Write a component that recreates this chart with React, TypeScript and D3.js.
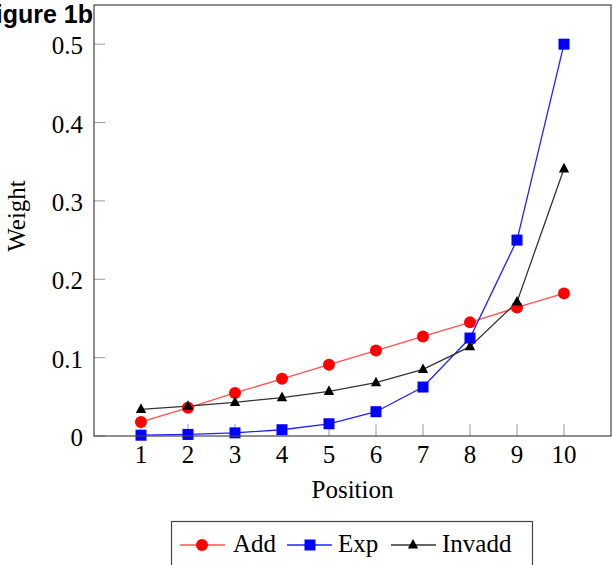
import React from 'react'
import * as d3 from 'd3'

const positions = [1, 2, 3, 4, 5, 6, 7, 8, 9, 10]
const addValues = [0.018, 0.036, 0.055, 0.073, 0.091, 0.109, 0.127, 0.145, 0.164, 0.182]
const expValues = [0.001, 0.002, 0.004, 0.008, 0.0156, 0.031, 0.0625, 0.125, 0.25, 0.5]
const invaddValues = [0.034, 0.038, 0.043, 0.049, 0.057, 0.068, 0.085, 0.114, 0.171, 0.341]
const yTicks = [0, 0.1, 0.2, 0.3, 0.4, 0.5]
const yTickLabels = ['0', '0.1', '0.2', '0.3', '0.4', '0.5']

const W = 612
const H = 565
const left = 94
const right = 611
const top = 5
const bottom = 436

const serif = '"Liberation Serif", "DejaVu Serif", serif'
const fs = 25

const App: React.FC = () => {
  const x = d3.scaleLinear().domain([0, 11]).range([left, right])
  const y = d3.scaleLinear().domain([0, 0.55]).range([bottom, top])

  const line = d3.line<number>()
    .x((_, i) => x(positions[i]))
    .y(d => y(d))

  // 三角形标记
  const tri = (cx: number, cy: number, s: number) =>
    `M${cx},${cy - s * 0.75} L${cx + s * 0.65},${cy + s * 0.45} L${cx - s * 0.65},${cy + s * 0.45} Z`

  return (
    <svg width={W} height={H} style={{ position: 'absolute', left: 0, top: 0, background: '#fff' }}>
      {/* 刻度 */}
      {yTicks.map((t, i) => (
        <g key={'y' + i}>
          <line x1={left} x2={left + 11} y1={y(t)} y2={y(t)} stroke="#999" strokeWidth={1} />
          <text x={83} y={y(t) + 10} textAnchor="end" fontFamily={serif} fontSize={fs}>{yTickLabels[i]}</text>
        </g>
      ))}
      {positions.map(p => (
        <g key={'x' + p}>
          <line x1={x(p)} x2={x(p)} y1={bottom} y2={bottom - 12} stroke="#999" strokeWidth={1} />
          <text x={x(p)} y={463} textAnchor="middle" fontFamily={serif} fontSize={fs}>{p}</text>
        </g>
      ))}

      {/* 数据线 */}
      <path d={line(addValues) || ''} fill="none" stroke="#ff5050" strokeWidth={1.3} />
      <path d={line(expValues) || ''} fill="none" stroke="#2020ff" strokeWidth={1.3} />
      <path d={line(invaddValues) || ''} fill="none" stroke="#333" strokeWidth={1.3} />

      {addValues.map((v, i) => (
        <circle key={'a' + i} cx={x(positions[i])} cy={y(v)} r={6} fill="#ff0000" />
      ))}
      {expValues.map((v, i) => (
        <rect key={'e' + i} x={x(positions[i]) - 5.5} y={y(v) - 5.5} width={11} height={11} fill="#0000ff" />
      ))}
      {invaddValues.map((v, i) => (
        <path key={'v' + i} d={tri(x(positions[i]), y(v), 8)} fill="#000" />
      ))}

      <rect x={left} y={top} width={right - left} height={bottom - top} fill="none" stroke="#444" strokeWidth={1.2} />

      <text x={93} y={23} textAnchor="end" fontFamily='"Liberation Sans", Arial, sans-serif'
        fontWeight="bold" fontSize={25}>Figure 1b</text>

      <text x={(left + right) / 2} y={498} textAnchor="middle" fontFamily={serif} fontSize={fs}>Position</text>
      <text transform={`translate(25,216) rotate(-90)`} textAnchor="middle"
        fontFamily={serif} fontSize={fs}>Weight</text>

      {/* 图例 */}
      <rect x={171.5} y={521.5} width={361} height={60} fill="#fff" stroke="#444" strokeWidth={1.2} />
      <line x1={180} x2={225} y1={545} y2={545} stroke="#ff5050" strokeWidth={1.3} />
      <circle cx={202} cy={545} r={6} fill="#ff0000" />
      <text x={233} y={552} fontFamily={serif} fontSize={fs}>Add</text>
      <line x1={287} x2={332} y1={545} y2={545} stroke="#2020ff" strokeWidth={1.3} />
      <rect x={304.5} y={539.5} width={11} height={11} fill="#0000ff" />
      <text x={338} y={552} fontFamily={serif} fontSize={fs}>Exp</text>
      <line x1={391} x2={436} y1={545} y2={545} stroke="#333" strokeWidth={1.3} />
      <path d={tri(413, 545, 8)} fill="#000" />
      <text x={442} y={552} fontFamily={serif} fontSize={fs}>Invadd</text>
    </svg>
  )
}

export default App
